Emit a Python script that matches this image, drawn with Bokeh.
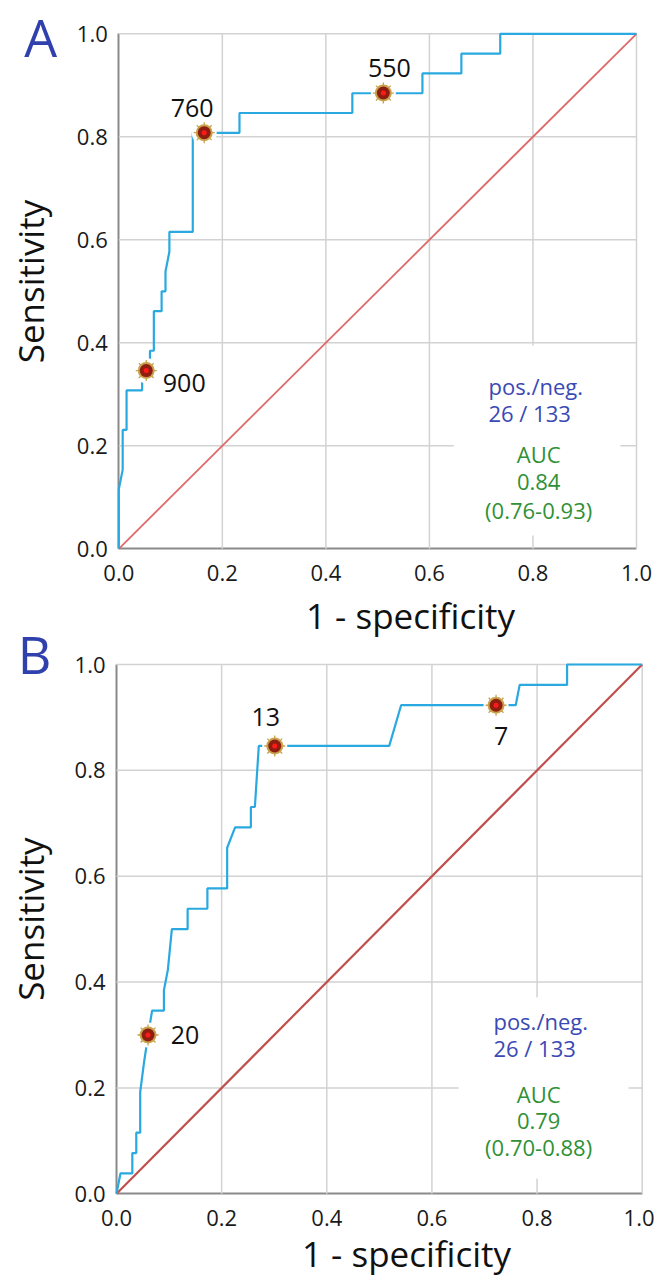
import math
from bokeh.plotting import figure
from bokeh.models import (Range1d, FixedTicker, PrintfTickFormatter, Label,
                          ColumnDataSource, LinearAxis)
from bokeh.embed import file_html
from bokeh.resources import INLINE
from bokeh.core.properties import value

# ---------------- data ----------------
# Panel A: ROC curve vertices (1 - specificity, sensitivity)
fpr_a = [0.0, 0.0, 0.0075, 0.0075, 0.0150, 0.0150, 0.0451, 0.0451, 0.0602, 0.0602,
         0.0677, 0.0677, 0.0827, 0.0827, 0.0902, 0.0902, 0.0977, 0.0977, 0.1429, 0.1429,
         0.2331, 0.2331, 0.4511, 0.4511, 0.5865, 0.5865, 0.6617, 0.6617, 0.7368, 0.7368, 1.0]
tpr_a = [0.0, 0.1154, 0.1538, 0.2308, 0.2308, 0.3077, 0.3077, 0.3462, 0.3462, 0.3846,
         0.3846, 0.4615, 0.4615, 0.5000, 0.5000, 0.5385, 0.5769, 0.6154, 0.6154, 0.8077,
         0.8077, 0.8462, 0.8462, 0.8846, 0.8846, 0.9231, 0.9231, 0.9615, 0.9615, 1.0, 1.0]
cut_a_fpr = [0.053, 0.165, 0.511]
cut_a_tpr = [0.346, 0.808, 0.885]
cut_a_text = ["900", "760", "550"]

# Panel B: ROC curve vertices
fpr_b = [0.0, 0.0075, 0.0301, 0.0301, 0.0376, 0.0376, 0.0451, 0.0451, 0.0526, 0.0602,
         0.0677, 0.0902, 0.0902, 0.0977, 0.1053, 0.1353, 0.1353, 0.1729, 0.1729, 0.2105,
         0.2105, 0.2256, 0.2556, 0.2556, 0.2632, 0.2707, 0.5188, 0.5414, 0.7594, 0.7669,
         0.8571, 0.8571, 1.0]
tpr_b = [0.0, 0.0385, 0.0385, 0.0769, 0.0769, 0.1154, 0.1154, 0.1923, 0.2500, 0.3000,
         0.3462, 0.3462, 0.3846, 0.4231, 0.5000, 0.5000, 0.5385, 0.5385, 0.5769, 0.5769,
         0.6538, 0.6923, 0.6923, 0.7308, 0.7308, 0.8462, 0.8462, 0.9231, 0.9231, 0.9615,
         0.9615, 1.0, 1.0]
cut_b_fpr = [0.060, 0.301, 0.722]
cut_b_tpr = [0.300, 0.846, 0.923]
cut_b_text = ["20", "13", "7"]

n_pos = 26
n_neg = 133
auc_a = 0.84
ci_a = (0.76, 0.93)
auc_b = 0.79
ci_b = (0.70, 0.88)

ticks = [0.0, 0.2, 0.4, 0.6, 0.8, 1.0]
chance = [0.0, 1.0]
x_title = "1 - specificity"
y_title = "Sensitivity"

# ---------------- styles / layout ----------------
FONT = "Open Sans"
BLUE_TXT = "#3a49b4"
GREEN_TXT = "#2f9136"
CURVE = "#29a9e0"
W, H = 654, 1278

# pixel geometry of each panel on the page (where 0 and 1 of each axis fall)
layout_a = dict(name="default", x0px=118.3, x1px=636.0, y1px=33.3, y0px=548.3,
                cdx=[38, -12, 6], cdy=[12, -25, -25], diag="#de6b6b", diag_w=1.8,
                info_x=0.714, pos_y=[0.317, 0.263], auc_x=0.811, auc_y=[0.185, 0.129, 0.075],
                box=(0.647, 0.969, 0.026, 0.395),
                xt=(0.5635, -0.1295), yt=(-0.1706, 0.519), let=(-0.151, 0.9948))
layout_b = dict(name="b", x0px=116.0, x1px=641.7, y1px=664.0, y0px=1193.3,
                cdx=[37, -9, 5], cdy=[0, -29, 31], diag="#c0504d", diag_w=2.2,
                info_x=0.717, pos_y=[0.327, 0.275], auc_x=0.803, auc_y=[0.189, 0.138, 0.088],
                box=(0.651, 0.974, 0.029, 0.371),
                xt=(0.5517, -0.1128), yt=(-0.1636, 0.519), let=(-0.156, 1.0208))


def ranges_for(lay):
    ppx = lay["x1px"] - lay["x0px"]
    ppy = lay["y0px"] - lay["y1px"]
    xr = Range1d(-lay["x0px"] / ppx, (W - lay["x0px"]) / ppx)
    yr = Range1d(-(H - lay["y0px"]) / ppy, 1 + lay["y1px"] / ppy)
    return xr, yr


xr_a, yr_a = ranges_for(layout_a)
xr_b, yr_b = ranges_for(layout_b)

p = figure(width=W, height=H, x_range=xr_a, y_range=yr_a,
           x_axis_location=None, y_axis_location=None,
           min_border_left=0, min_border_right=0, min_border_top=0, min_border_bottom=0,
           output_backend="svg", toolbar_location=None, tools="")
p.extra_x_ranges = {"b": xr_b}
p.extra_y_ranges = {"b": yr_b}
p.background_fill_color = "white"
p.border_fill_color = "white"
p.outline_line_color = None
p.grid.visible = False


def style_axis(ax, standoff):
    ax.fixed_location = 0
    ax.bounds = (0, 1)
    ax.level = "underlay"
    ax.ticker = FixedTicker(ticks=ticks)
    ax.formatter = PrintfTickFormatter(format="%.1f")
    ax.major_tick_line_color = None
    ax.minor_tick_line_color = None
    ax.major_tick_out = 0
    ax.major_tick_in = 0
    ax.axis_line_color = "#8a8a8a"
    ax.axis_line_width = 2
    ax.major_label_text_font = FONT
    ax.major_label_text_font_size = "22px"
    ax.major_label_text_color = "#1a1a1a"
    ax.major_label_standoff = standoff
    return ax


def draw_panel(fpr, tpr, cfpr, ctpr, ctext, auc, ci, letter, lay):
    rn = dict(x_range_name=lay["name"], y_range_name=lay["name"])

    p.add_layout(style_axis(LinearAxis(**rn), 16), "below")
    p.add_layout(style_axis(LinearAxis(**rn), 11), "left")

    # grid lines (incl. the light top/right border at 1.0)
    gl = ticks[1:]
    n = len(gl)
    p.segment(x0=gl, y0=[ticks[0]] * n, x1=gl, y1=[ticks[-1]] * n,
              line_color="#d2d2d2", line_width=1.5, **rn)
    p.segment(x0=[ticks[0]] * n, y0=gl, x1=[ticks[-1]] * n, y1=gl,
              line_color="#d2d2d2", line_width=1.5, **rn)

    bx0, bx1, by0, by1 = lay["box"]
    p.quad(left=[bx0], right=[bx1], bottom=[by0], top=[by1],
           fill_color="white", line_color=None, **rn)

    p.line(chance, chance, line_color=lay["diag"], line_width=lay["diag_w"], **rn)
    p.line(fpr, tpr, line_color=CURVE, line_width=2.2, **rn)

    # cut-off markers
    p.scatter(cfpr, ctpr, size=25, fill_color="white", line_color=None, **rn)
    p.scatter(cfpr, ctpr, marker="asterisk", size=21, line_color="#c9a24e", line_width=1.3, **rn)
    p.scatter(cfpr, ctpr, size=17, fill_color="#c9a24e", line_color=None, **rn)
    p.scatter(cfpr, ctpr, size=13, fill_color="#8e1f10", line_color=None, **rn)
    p.scatter(cfpr, ctpr, size=5, fill_color="#ff1a1a", line_color=None, **rn)

    src = ColumnDataSource(dict(x=cfpr, y=ctpr, text=ctext, dx=lay["cdx"], dy=lay["cdy"]))
    p.text("x", "y", text="text", x_offset="dx", y_offset="dy", source=src,
           text_font=value(FONT), text_font_size="25px", text_color="#111111",
           text_align="center", text_baseline="middle", **rn)

    # info block
    ix = lay["info_x"]
    p.text(x=[ix, ix], y=lay["pos_y"], text=["pos./neg.", f"{n_pos} / {n_neg}"],
           text_font=value(FONT), text_font_size="22px", text_color=BLUE_TXT,
           text_align="left", text_baseline="middle", **rn)
    axc = lay["auc_x"]
    p.text(x=[axc, axc, axc], y=lay["auc_y"],
           text=["AUC", f"{auc:.2f}", f"({ci[0]:.2f}-{ci[1]:.2f})"],
           text_font=value(FONT), text_font_size="22px", text_color=GREEN_TXT,
           text_align="center", text_baseline="middle", **rn)

    # axis titles and panel letter
    p.add_layout(Label(x=lay["xt"][0], y=lay["xt"][1], text=x_title,
                       text_font=FONT, text_font_size="35px", text_color="#111111",
                       text_align="center", text_baseline="middle", **rn))
    p.add_layout(Label(x=lay["yt"][0], y=lay["yt"][1], text=y_title, angle=math.pi / 2,
                       text_font=FONT, text_font_size="35px", text_color="#111111",
                       text_align="center", text_baseline="middle", **rn))
    p.add_layout(Label(x=lay["let"][0], y=lay["let"][1], text=letter,
                       text_font=FONT, text_font_size="52px", text_color="#3040ac",
                       text_align="center", text_baseline="middle", **rn))


draw_panel(fpr_a, tpr_a, cut_a_fpr, cut_a_tpr, cut_a_text, auc_a, ci_a, "A", layout_a)
draw_panel(fpr_b, tpr_b, cut_b_fpr, cut_b_tpr, cut_b_text, auc_b, ci_b, "B", layout_b)

open("out.html", "w").write(file_html(p, INLINE))
